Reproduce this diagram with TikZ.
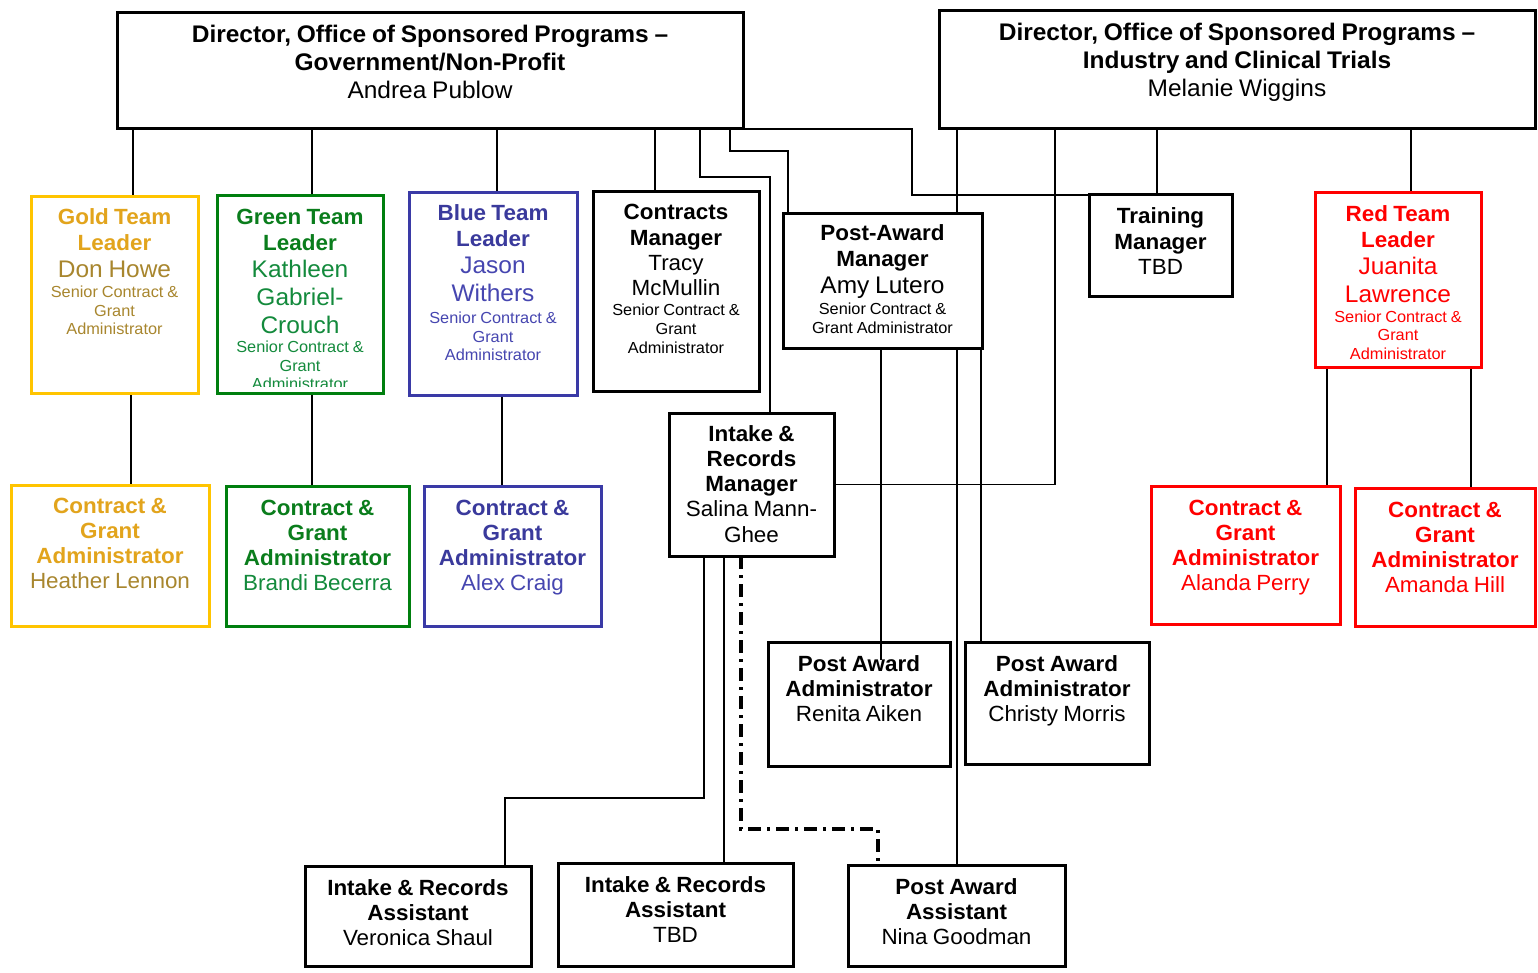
\documentclass[tikz,border=0pt]{standalone}
\usepackage{fontspec}
\setmainfont{Liberation Sans}[FakeStretch=1.02]
\definecolor{goldB}{HTML}{FFC400}
\definecolor{goldH}{HTML}{E2A41C}
\definecolor{goldN}{HTML}{A8862E}
\definecolor{greenB}{HTML}{007F0E}
\definecolor{greenH}{HTML}{0A7D1C}
\definecolor{greenN}{HTML}{138A3C}
\definecolor{blueB}{HTML}{3A3AA6}
\definecolor{blueH}{HTML}{3A3A9C}
\definecolor{blueN}{HTML}{4646B0}
\definecolor{redB}{HTML}{FF0000}
\newcommand\fHd{\fontsize{22}{25.3}\selectfont\bfseries\spaceskip=0.24em\relax}
\newcommand\fNm{\fontsize{24}{27.6}\selectfont\mdseries\spaceskip=0.24em\relax}
\newcommand\fNs{\fontsize{22}{25.3}\selectfont\mdseries\spaceskip=0.24em\relax}
\newcommand\fSm{\fontsize{16}{18.6}\selectfont\mdseries\spaceskip=0.24em\relax}
\newcommand\fTt{\fontsize{24}{27.6}\selectfont\bfseries\spaceskip=0.24em\relax}
\begin{document}
\begin{tikzpicture}[x=1pt,y=-1pt,
  box/.style={draw, line width=3pt, fill=white, inner sep=0pt, outer sep=0pt, anchor=north west},
  txt/.style={align=center, inner sep=0pt, anchor=base},
  conn/.style={line width=1.5pt},
  dashdotline/.style={line width=3.2pt, dash pattern=on 13pt off 6pt on 3pt off 6pt}]
\useasboundingbox (0,0) rectangle (1538,973);
% x positions for connectors
\foreach \n/\v in {a/133,b/312,c/497,d/655,e/700,f/770,g/730,h/788,i/912,j/957,k/1055,l/1157,m/1411,n/131,o/502,p/1327,q/1471,r/881,s/981,t/704,u/505,v/724,w/741,x/878}
  \coordinate (x\n) at (\v,0);
\coordinate (y177) at (0,177);
\coordinate (y151) at (0,151);
\coordinate (y195) at (0,195);
\coordinate (y798) at (0,798);
\coordinate (y829) at (0,829);
% box placeholders
\path
  node[box, draw=none, fill=none, minimum width=626pt, minimum height=116pt] (ldir) at (117,13) {}
  node[box, draw=none, fill=none, minimum width=596pt, minimum height=118pt] (rdir) at (939,11) {}
  node[box, draw=none, fill=none, minimum width=167pt, minimum height=196pt] (gold) at (31,197) {}
  node[box, draw=none, fill=none, minimum width=166pt, minimum height=197pt] (green) at (217,196) {}
  node[box, draw=none, fill=none, minimum width=168pt, minimum height=202pt] (blue) at (409,193) {}
  node[box, draw=none, fill=none, minimum width=166pt, minimum height=199pt] (contr) at (593,192) {}
  node[box, draw=none, fill=none, minimum width=199pt, minimum height=134pt] (pam) at (783,214) {}
  node[box, draw=none, fill=none, minimum width=143pt, minimum height=102pt] (train) at (1089,195) {}
  node[box, draw=none, fill=none, minimum width=166pt, minimum height=174pt] (red) at (1315,193) {}
  node[box, draw=none, fill=none, minimum width=198pt, minimum height=141pt] (heather) at (11,485) {}
  node[box, draw=none, fill=none, minimum width=183pt, minimum height=140pt] (brandi) at (226,486) {}
  node[box, draw=none, fill=none, minimum width=177pt, minimum height=140pt] (alex) at (424,486) {}
  node[box, draw=none, fill=none, minimum width=165pt, minimum height=143pt] (intake) at (669,413) {}
  node[box, draw=none, fill=none, minimum width=189pt, minimum height=138pt] (alanda) at (1151,486) {}
  node[box, draw=none, fill=none, minimum width=180pt, minimum height=138pt] (amanda) at (1355,488) {}
  node[box, draw=none, fill=none, minimum width=182pt, minimum height=124pt] (renita) at (768,642) {}
  node[box, draw=none, fill=none, minimum width=184pt, minimum height=122pt] (christy) at (965,642) {}
  node[box, draw=none, fill=none, minimum width=226pt, minimum height=100pt] (veronica) at (305,866) {}
  node[box, draw=none, fill=none, minimum width=235pt, minimum height=103pt] (itbd) at (558,863) {}
  node[box, draw=none, fill=none, minimum width=217pt, minimum height=101pt] (nina) at (848,865) {};
% connectors
\draw[conn] (ldir.south -| xa) -- (gold.north -| xa);
\draw[conn] (ldir.south -| xb) -- (green.north -| xb);
\draw[conn] (ldir.south -| xc) -- (blue.north -| xc);
\draw[conn] (ldir.south -| xd) -- (contr.north -| xd);
\draw[conn] (ldir.south -| xe) -- (xe |- y177) -- (xf |- y177) -- (intake.north -| xf);
\draw[conn] (ldir.south -| xg) -- (xg |- y151) -- (xh |- y151) -- (pam.north -| xh);
\draw[conn] (ldir.south east) -- (ldir.south east -| xi) -- (xi |- y195) -- (train.north west);
\draw[conn] (rdir.south -| xj) -- (nina.north -| xj);
\draw[conn] (rdir.south -| xk) -- (intake.east -| xk) -- (intake.east);
\draw[conn] (rdir.south -| xl) -- (train.north -| xl);
\draw[conn] (rdir.south -| xm) -- (red.north -| xm);
\draw[conn] (gold.south -| xn) -- (heather.north -| xn);
\draw[conn] (green.south -| xb) -- (brandi.north -| xb);
\draw[conn] (blue.south -| xo) -- (alex.north -| xo);
\draw[conn] (red.south -| xp) -- (alanda.north -| xp);
\draw[conn] (red.south -| xq) -- (amanda.north -| xq);
\draw[conn] (pam.south -| xs) -- (christy.north -| xs);
\draw[conn] (intake.south -| xt) -- (xt |- y798) -- (xu |- y798) -- (veronica.north -| xu);
\draw[conn] (intake.south -| xv) -- (itbd.north -| xv);
\draw[dashdotline] (intake.south -| xw) -- (xw |- y829) -- (xx |- y829) -- (nina.north -| xx);
% visible boxes
\foreach \b/\c in {ldir/black,rdir/black,gold/goldB,green/greenB,blue/blueB,contr/black,pam/black,train/black,red/redB,heather/goldB,brandi/greenB,alex/blueB,intake/black,alanda/redB,amanda/redB,renita/black,christy/black,veronica/black,itbd/black,nina/black}
  \draw[line width=3pt, draw=\c, fill=white] (\b.north west) rectangle (\b.south east);
% line running over the Renita box top
\draw[conn] (pam.south -| xr) -- ([yshift=-18pt]renita.north -| xr);
% texts
\node[txt, text width=600pt] (ldirT) at (430,43) {{\fTt Director, Office of Sponsored Programs –\\Government/Non-Profit\par}{\fNm Andrea Publow\par}};
\node[txt, text width=590pt] (rdirT) at (1237,41) {{\fTt Director, Office of Sponsored Programs –\\Industry and Clinical Trials\par}{\fNm Melanie Wiggins\par}};
\node[txt, text width=160pt, color=goldH] (goldT) at (114.5,225) {{\fHd Gold Team\\Leader\par}{\color{goldN}\fNm Don Howe\par}\vspace{1pt}{\color{goldN}\fSm Senior Contract \&\\Grant\\Administrator\par}};
\begin{scope}
\clip (217,196) rectangle (383,386);
\node[txt, text width=160pt, color=greenH] (greenT) at (300,225) {{\fHd Green Team\\Leader\par}{\color{greenN}\fNm Kathleen\\Gabriel-\\Crouch\par}\vspace{1pt}{\color{greenN}\fSm Senior Contract \&\\Grant\\Administrator\par}};
\end{scope}
\node[txt, text width=160pt, color=blueH] (blueT) at (493,221) {{\fHd Blue Team\\Leader\par}{\color{blueN}\fNm Jason\\Withers\par}\vspace{3.5pt}{\color{blueN}\fSm Senior Contract \&\\Grant\\Administrator\par}};
\node[txt, text width=160pt] (contrT) at (676,220) {{\fHd Contracts\\Manager\par}{\fNs Tracy\\McMullin\par}\vspace{1.5pt}{\fSm Senior Contract \&\\Grant\\Administrator\par}};
\node[txt, text width=190pt] (pamT) at (882.5,241) {{\fHd Post-Award\\Manager\par}{\fNm Amy Lutero\par}\vspace{2pt}{\fSm Senior Contract \&\\Grant Administrator\par}};
\node[txt, text width=140pt] (trainT) at (1160.5,224) {{\fHd Training\\Manager\par}{\fNs TBD\par}};
\node[txt, text width=160pt, color=redB] (redT) at (1398,222) {{\fHd Red Team\\Leader\par}{\fNm Juanita\\Lawrence\par}\vspace{1pt}{\fSm Senior Contract \&\\Grant\\Administrator\par}};
\node[txt, text width=190pt, color=goldH] (heatherT) at (110,513) {{\fHd Contract \&\\Grant\\Administrator\par}{\color{goldN}\fNs Heather Lennon\par}};
\node[txt, text width=180pt, color=greenH] (brandiT) at (317.5,515) {{\fHd Contract \&\\Grant\\Administrator\par}{\color{greenN}\fNs Brandi Becerra\par}};
\node[txt, text width=170pt, color=blueH] (alexT) at (512.5,515) {{\fHd Contract \&\\Grant\\Administrator\par}{\color{blueN}\fNs Alex Craig\par}};
\node[txt, text width=160pt] (intakeT) at (751.5,441) {{\fHd Intake \&\\Records\\Manager\par}{\fNs Salina Mann-\\Ghee\par}};
\node[txt, text width=185pt, color=redB] (alandaT) at (1245.5,515) {{\fHd Contract \&\\Grant\\Administrator\par}{\fNs Alanda Perry\par}};
\node[txt, text width=175pt, color=redB] (amandaT) at (1445,517) {{\fHd Contract \&\\Grant\\Administrator\par}{\fNs Amanda Hill\par}};
\node[txt, text width=178pt] (renitaT) at (859,671) {{\fHd Post Award\\Administrator\par}{\fNs Renita Aiken\par}};
\node[txt, text width=180pt] (christyT) at (1057,671) {{\fHd Post Award\\Administrator\par}{\fNs Christy Morris\par}};
\node[txt, text width=220pt] (veronicaT) at (418,895) {{\fHd Intake \& Records\\Assistant\par}{\fNs Veronica Shaul\par}};
\node[txt, text width=230pt] (itbdT) at (675.5,892) {{\fHd Intake \& Records\\Assistant\par}{\fNs TBD\par}};
\node[txt, text width=210pt] (ninaT) at (956.5,894) {{\fHd Post Award\\Assistant\par}{\fNs Nina Goodman\par}};
\end{tikzpicture}
\end{document}
